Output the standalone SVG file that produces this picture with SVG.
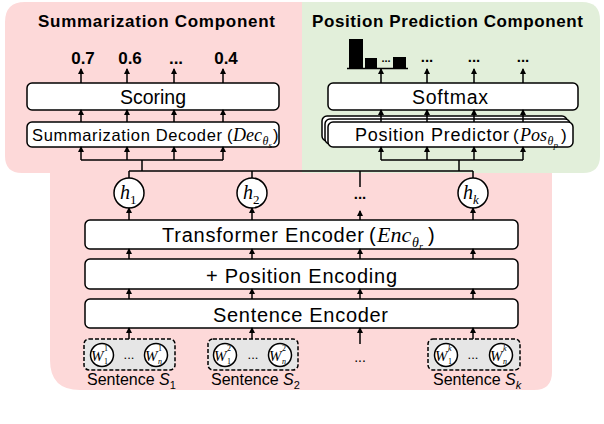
<svg xmlns="http://www.w3.org/2000/svg" width="604" height="424" viewBox="0 0 604 424">
<style>
.box{fill:#fff;stroke:#000;stroke-width:1.5}
.sbox{fill:#e6e6e6;stroke:#000;stroke-width:1.5;stroke-dasharray:4 2}
.circ{fill:#fff;stroke:#000;stroke-width:1.5}
.ln{stroke:#000;stroke-width:1.5;fill:none}
.ar{stroke:#000;stroke-width:1.5;fill:none;marker-end:url(#ah)}
.t{font-family:"Liberation Sans",Arial,sans-serif;fill:#000}
.b{font-weight:bold}
.m{font-family:"Liberation Serif","Times New Roman",serif;font-style:italic;fill:#000}
.n{font-family:"Liberation Serif","Times New Roman",serif;font-style:normal;fill:#000}
.si{font-family:"Liberation Sans",Arial,sans-serif;font-style:italic;fill:#000}
</style>
<defs>
<marker id="ah" markerUnits="userSpaceOnUse" markerWidth="6" markerHeight="6" viewBox="0 0 6 6" refX="5" refY="3" orient="auto">
<path d="M0,0 L6,3 L0,6 Z" fill="#000"/>
</marker>
</defs>

<g id="backgrounds">
<path d="M25,2 H302 V173 H552 V372 Q552,390 534,390 H80 Q50,390 50,360 V173 H22 Q5,173 5,156 V22 Q5,2 25,2 Z" fill="#fdd9d9"/>
<path d="M302,2 H582 Q600,2 600,20 V156 Q600,173 583,173 H302 Z" fill="#e2efda"/>
</g>

<g id="titles">
<text class="t b" x="38" y="27" font-size="17" textLength="237">Summarization Component</text>
<text class="t b" x="312" y="27" font-size="17" textLength="271">Position Prediction Component</text>
</g>

<g id="scores">
<text class="t b" x="83" y="64" font-size="17" text-anchor="middle">0.7</text>
<text class="t b" x="130" y="64" font-size="17" text-anchor="middle">0.6</text>
<text class="t b" x="176" y="64" font-size="17" text-anchor="middle">...</text>
<text class="t b" x="226" y="64" font-size="17" text-anchor="middle">0.4</text>
</g>

<g id="histogram">
<rect x="349" y="39" width="14" height="29" fill="#000"/>
<rect x="365" y="58" width="12" height="10" fill="#000"/>
<rect x="393" y="57" width="13" height="11" fill="#000"/>
<line x1="347" y1="68.5" x2="408" y2="68.5" class="ln"/>
<text class="t b" x="386" y="62" font-size="11" text-anchor="middle">...</text>
<text class="t b" x="427" y="62" font-size="15" text-anchor="middle">...</text>
<text class="t b" x="474" y="62" font-size="15" text-anchor="middle">...</text>
<text class="t b" x="523" y="62" font-size="15" text-anchor="middle">...</text>
</g>

<g id="scoring">
<rect class="box" x="27" y="83" width="252" height="27" rx="5"/>
<text class="t" x="153" y="104" font-size="19.5" text-anchor="middle">Scoring</text>
</g>

<g id="summarization-decoder">
<rect class="box" x="27" y="122" width="252" height="25" rx="5"/>
<text class="t" x="32" y="141" font-size="16.5" textLength="190">Summarization Decoder</text>
<text class="t" x="227" y="141" font-size="16.5">(</text>
<text class="m" x="233" y="141" font-size="18">Dec</text>
<text class="m" x="262.5" y="145" font-size="12">θ</text>
<text class="m" x="268.5" y="148" font-size="9">s</text>
<text class="t" x="273" y="141" font-size="16.5">)</text>
</g>

<g id="softmax">
<rect class="box" x="328" y="83" width="250" height="27" rx="5"/>
<text class="t" x="450" y="104" font-size="19.5" text-anchor="middle" textLength="76">Softmax</text>
</g>

<g id="position-predictor">
<rect class="box" x="322" y="116" width="245" height="25" rx="5"/>
<rect class="box" x="325" y="119" width="245" height="25" rx="5"/>
<rect class="box" x="328" y="122" width="245" height="25" rx="5"/>
<text class="t" x="355" y="141" font-size="18" textLength="154">Position Predictor</text>
<text class="t" x="513" y="141" font-size="17">(</text>
<text class="m" x="520" y="141" font-size="18">Pos</text>
<text class="m" x="547.5" y="145" font-size="12">θ</text>
<text class="m" x="553.5" y="148" font-size="9">p</text>
<text class="t" x="561" y="141" font-size="17">)</text>
</g>

<g id="h1">
<circle class="circ" cx="129" cy="193" r="15"/>
<text class="m" x="120" y="199" font-size="20">h</text>
<text class="n" x="130" y="204" font-size="13">1</text>
</g>
<g id="h2">
<circle class="circ" cx="252" cy="193" r="15"/>
<text class="m" x="243" y="199" font-size="20">h</text>
<text class="n" x="253" y="204" font-size="13">2</text>
</g>
<g id="hdots">
<text class="t b" x="360" y="199" font-size="15" text-anchor="middle">...</text>
</g>
<g id="hk">
<circle class="circ" cx="473" cy="193" r="15"/>
<text class="m" x="463" y="199" font-size="20">h</text>
<text class="m" x="473" y="204" font-size="13">k</text>
</g>

<g id="transformer-encoder">
<rect class="box" x="85" y="220" width="433" height="29" rx="5"/>
<text class="t" x="162" y="242" font-size="20" textLength="202">Transformer Encoder</text>
<text class="t" x="369" y="242" font-size="20">(</text>
<text class="m" x="377" y="242" font-size="22">Enc</text>
<text class="m" x="412" y="247" font-size="14">θ</text>
<text class="m" x="419" y="250" font-size="10">r</text>
<text class="t" x="428" y="242" font-size="20">)</text>
</g>

<g id="position-encoding">
<rect class="box" x="85" y="259" width="433" height="30" rx="5"/>
<text class="t" x="206" y="283" font-size="20" textLength="191">+ Position Encoding</text>
</g>

<g id="sentence-encoder">
<rect class="box" x="85" y="299" width="433" height="29" rx="5"/>
<text class="t" x="213" y="322" font-size="20" textLength="175">Sentence Encoder</text>
</g>

<g id="sentence1">
<rect class="sbox" x="84" y="339" width="91" height="31" rx="5"/>
<circle class="circ" cx="102" cy="355" r="11.5"/>
<text class="m" x="91" y="361" font-size="15">W</text>
<text class="n" x="104" y="351" font-size="8">1</text>
<text class="n" x="104" y="364" font-size="8">1</text>
<text class="t" x="129" y="359" font-size="13" text-anchor="middle">...</text>
<circle class="circ" cx="156" cy="355" r="11.5"/>
<text class="m" x="145" y="361" font-size="15">W</text>
<text class="n" x="158" y="351" font-size="8">1</text>
<text class="m" x="158" y="364" font-size="8">n</text>
<text class="t" x="87" y="385" font-size="16">Sentence <tspan class="si">S</tspan><tspan font-size="11" dy="4">1</tspan></text>
</g>

<g id="sentence2">
<rect class="sbox" x="208" y="339" width="90" height="31" rx="5"/>
<circle class="circ" cx="225" cy="355" r="11.5"/>
<text class="m" x="214" y="361" font-size="15">W</text>
<text class="n" x="227" y="351" font-size="8">2</text>
<text class="n" x="227" y="364" font-size="8">1</text>
<text class="t" x="253" y="359" font-size="13" text-anchor="middle">...</text>
<circle class="circ" cx="280" cy="355" r="11.5"/>
<text class="m" x="269" y="361" font-size="15">W</text>
<text class="n" x="282" y="351" font-size="8">2</text>
<text class="m" x="282" y="364" font-size="8">n</text>
<text class="t" x="211" y="385" font-size="16">Sentence <tspan class="si">S</tspan><tspan font-size="11" dy="4">2</tspan></text>
</g>

<g id="sdots">
<text class="t" x="360" y="362" font-size="14" text-anchor="middle">...</text>
</g>

<g id="sentencek">
<rect class="sbox" x="428" y="339" width="92" height="31" rx="5"/>
<circle class="circ" cx="446" cy="355" r="11.5"/>
<text class="m" x="435" y="361" font-size="15">W</text>
<text class="m" x="448" y="351" font-size="8">k</text>
<text class="n" x="448" y="364" font-size="8">1</text>
<text class="t" x="473" y="359" font-size="13" text-anchor="middle">...</text>
<circle class="circ" cx="501" cy="355" r="11.5"/>
<text class="m" x="490" y="361" font-size="15">W</text>
<text class="m" x="503" y="351" font-size="8">k</text>
<text class="m" x="503" y="364" font-size="8">n</text>
<text class="t" x="433" y="385" font-size="16">Sentence <tspan class="si">S</tspan><tspan class="si" font-size="11" dy="4">k</tspan></text>
</g>

<g id="connectors">
<path class="ar" d="M81,83 V69"/><path class="ar" d="M127,83 V69"/><path class="ar" d="M174,83 V69"/><path class="ar" d="M223,83 V69"/>
<path class="ar" d="M81,122 V110"/><path class="ar" d="M127,122 V110"/><path class="ar" d="M174,122 V110"/><path class="ar" d="M223,122 V110"/>
<path class="ln" d="M81,160 H223"/>
<path class="ar" d="M81,160 V147"/><path class="ar" d="M127,160 V147"/><path class="ar" d="M174,160 V147"/><path class="ar" d="M223,160 V147"/>
<path class="ln" d="M142,160 V171"/>
<path class="ar" d="M381,83 V69"/><path class="ar" d="M427,83 V69"/><path class="ar" d="M474,83 V69"/><path class="ar" d="M523,83 V69"/>
<path class="ar" d="M381,122 V110"/><path class="ar" d="M427,122 V110"/><path class="ar" d="M474,122 V110"/><path class="ar" d="M523,122 V110"/>
<path class="ln" d="M381,160 H523"/>
<path class="ar" d="M381,160 V147"/><path class="ar" d="M427,160 V147"/><path class="ar" d="M474,160 V147"/><path class="ar" d="M523,160 V147"/>
<path class="ln" d="M459,160 V171"/>
<path class="ln" d="M129,171 H473"/>
<path class="ln" d="M129,171 V178"/><path class="ln" d="M252,171 V178"/><path class="ln" d="M473,171 V178"/><path class="ln" d="M360,171 V187"/>
<path class="ar" d="M129,220 V208"/><path class="ar" d="M252,220 V208"/><path class="ar" d="M360,220 V211"/><path class="ar" d="M473,220 V208"/>
<path class="ar" d="M129,259 V249"/><path class="ar" d="M252,259 V249"/><path class="ar" d="M360,259 V249"/><path class="ar" d="M473,259 V249"/>
<path class="ar" d="M129,299 V289"/><path class="ar" d="M252,299 V289"/><path class="ar" d="M360,299 V289"/><path class="ar" d="M473,299 V289"/>
<path class="ar" d="M129,339 V328"/><path class="ar" d="M252,339 V328"/><path class="ar" d="M360,344 V328"/><path class="ar" d="M473,339 V328"/>
</g>
</svg>
